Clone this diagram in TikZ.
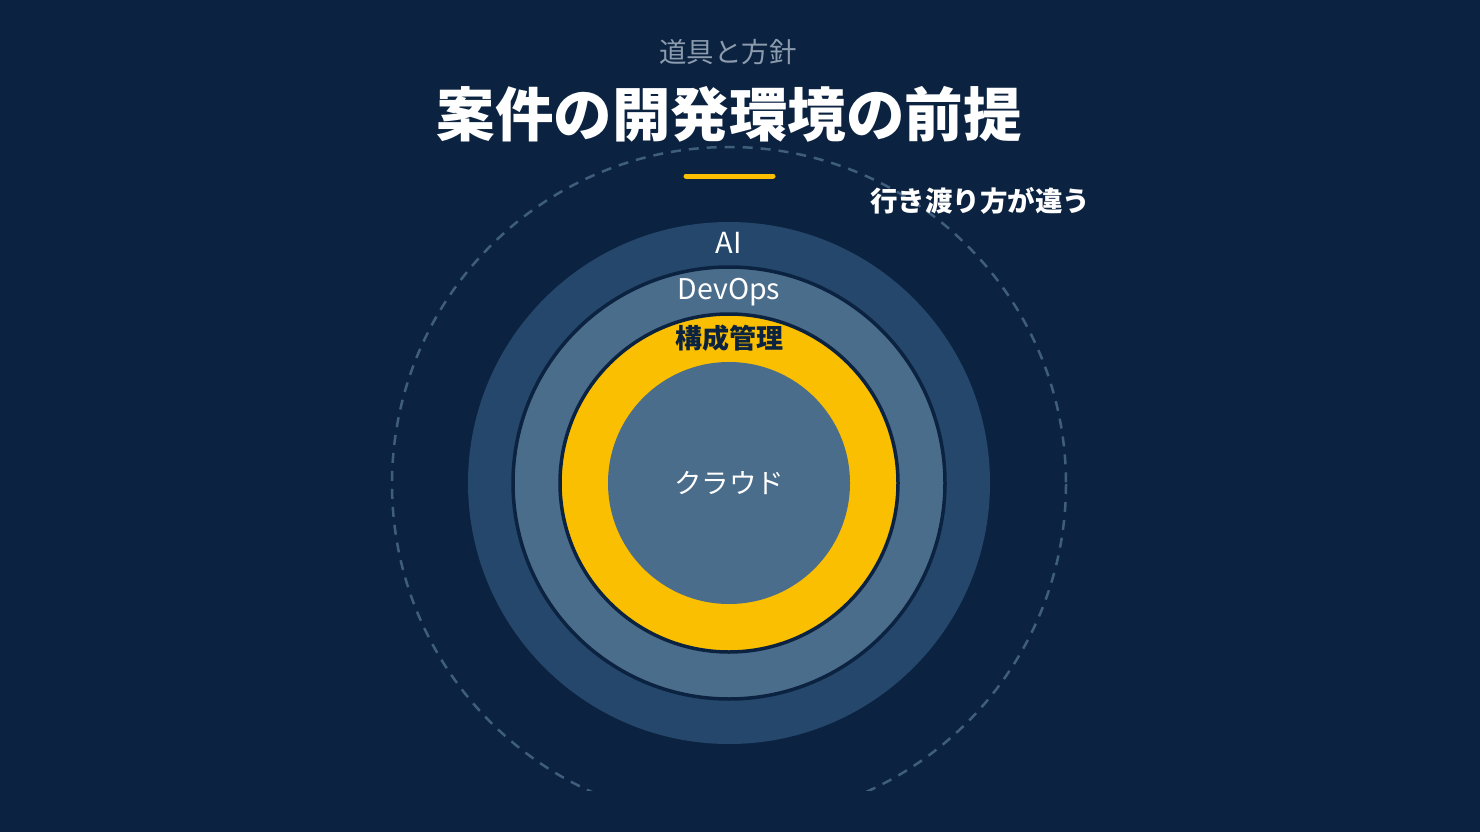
\documentclass[tikz,border=0pt]{standalone}
\usepackage{fontspec}
\setmainfont{Noto Sans CJK JP}
\newfontfamily\jpfont{Noto Sans CJK JP}
\definecolor{bgc}{HTML}{0B2340}
\definecolor{ringa}{HTML}{24476B}
\definecolor{ringb}{HTML}{4B6D8C}
\definecolor{ylw}{HTML}{F9BF00}
\definecolor{dashc}{HTML}{3F5D7C}
\definecolor{subc}{HTML}{8C9BAD}
\tikzset{
  lbl/.style={inner sep=0pt, anchor=center, font=\jpfont},
  ring/.style={circle, inner sep=0pt, minimum size=#1},
}
\begin{document}
\begin{tikzpicture}[x=1pt,y=-1pt]
\fill[bgc] (0,0) rectangle (1480,832);
\useasboundingbox (0,0) rectangle (1480,832);
\coordinate (c) at (729,483);
% dashed outer circle, clipped at bottom
\begin{scope}
\clip (0,0) rectangle (1480,790);
\draw[dashc, line width=2.5pt, dash pattern=on 10pt off 8pt] (729,484) circle[radius=337];
\end{scope}
% rings
\node[ring=522pt, fill=ringa] (ai) at (c) {};
\node[ring=432pt, fill=ringb, draw=bgc, line width=3.5pt] (devops) at (c) {};
\node[ring=338pt, fill=ylw, draw=bgc, line width=3.5pt] (cm) at (c) {};
\node[ring=242pt, fill=ringb] (cloud) at (c) {};
% texts
\node[lbl, text=subc, font=\jpfont\fontsize{27.5}{32}\selectfont] (sub) at (728,52) {道具と方針};
\node[lbl, text=white, font=\jpfont\bfseries\fontsize{58.5}{66}\selectfont] (title) at (729,114) {案件の開発環境の前提};
\draw[ylw, line width=5pt, line cap=round] (686,176) -- (773,176);
\node[lbl, text=white, font=\jpfont\bfseries\fontsize{27.5}{32}\selectfont] (note) at (980,201) {行き渡り方が違う};
\node[lbl, text=white, font=\jpfont\fontsize{29}{32}\selectfont] (tai) at (729,243) {AI};
\node[lbl, text=white, font=\jpfont\fontsize{28.5}{32}\selectfont] (tdev) at (729,292) {DevOps};
\node[lbl, text=bgc, font=\jpfont\bfseries\fontsize{27}{30}\selectfont] (tcm) at (729,338) {構成管理};
\node[lbl, text=white, font=\jpfont\fontsize{27.5}{30}\selectfont] (tcl) at (729,483) {クラウド};
\end{tikzpicture}
\end{document}
